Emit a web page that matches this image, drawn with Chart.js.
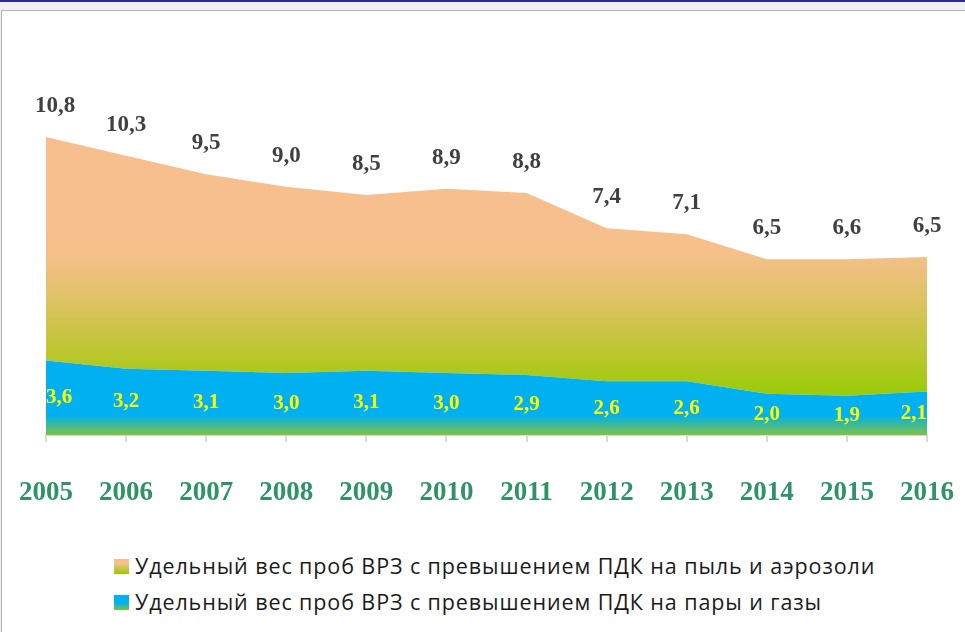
<!DOCTYPE html>
<html>
<head>
<meta charset="utf-8">
<script src="https://cdn.jsdelivr.net/npm/chart.js@4.4.1/dist/chart.umd.min.js"></script>
<style>
    html, body { margin: 0; padding: 0; }
    body { width: 965px; height: 632px; background: #f0f0f0; position: relative; overflow: hidden; }
    #topLine { position: absolute; left: 0; top: 0; width: 965px; height: 2px; background: #2e2e8f; }
    #frame { position: absolute; left: 1px; top: 10px; width: 980px; height: 640px; background: #fff; border: 1px solid #b4b4b4; }
    #chartBox { position: absolute; left: 0; top: 0; width: 965px; height: 530px; }
    .legend { position: absolute; left: 114px; font-family: "Open Sans", "Noto Sans", sans-serif; font-size: 21.5px; letter-spacing: 0.9px; color: #1a1a1a; white-space: nowrap; }
    .legend .box { position: absolute; left: 0; width: 15px; height: 15px; }
    .legend span.txt { position: absolute; left: 21px; }
    #leg1 { top: 551px; }
    #leg2 { top: 587px; }
    #leg1 .box { top: 8px; background: linear-gradient(#f8bf8f 0%, #f8bf8f 30%, #c8c448 65%, #96cc00 100%); }
    #leg2 .box { top: 8px; background: linear-gradient(#00b0f0 0%, #00b0f0 55%, #7ec33f 100%); }
</style>
</head>
<body>
<div id="topLine"></div>
<div id="frame"></div>
<div id="chartBox"><canvas id="myChart" width="965" height="530"></canvas></div>
<div class="legend" id="leg1"><div class="box"></div><span class="txt">Удельный вес проб ВРЗ с превышением ПДК на пыль и аэрозоли</span></div>
<div class="legend" id="leg2"><div class="box"></div><span class="txt">Удельный вес проб ВРЗ с превышением ПДК на пары и газы</span></div>
<script>
// years on the x axis
const years = ["2005", "2006", "2007", "2008", "2009", "2010", "2011", "2012", "2013", "2014", "2015", "2016"];
// dust and aerosols (upper area, stacked on top)
const dustValues = [10.8, 10.3, 9.5, 9.0, 8.5, 8.9, 8.8, 7.4, 7.1, 6.5, 6.6, 6.5];
// vapours and gases (lower area)
const gasValues = [3.6, 3.2, 3.1, 3.0, 3.1, 3.0, 2.9, 2.6, 2.6, 2.0, 1.9, 2.1];

const dustLabel = "Удельный вес проб ВРЗ с превышением ПДК на пыль и аэрозоли";
const gasLabel = "Удельный вес проб ВРЗ с превышением ПДК на пары и газы";

function fmt(v) {
    return v.toFixed(1).replace(".", ",");
}

function dustFill(ctx) {
    const area = ctx.chart.chartArea;
    if (!area) return "#f8bf8f";
    const g = ctx.chart.ctx.createLinearGradient(0, area.top, 0, area.bottom);
    g.addColorStop(0, "#f8bf8f");
    g.addColorStop(0.45, "#f6bf8c");
    g.addColorStop(0.6, "#dcc262");
    g.addColorStop(0.75, "#bcc62f");
    g.addColorStop(0.87, "#9ccb0a");
    g.addColorStop(1, "#92cc00");
    return g;
}

function gasFill(ctx) {
    const area = ctx.chart.chartArea;
    if (!area) return "#00b0f0";
    const g = ctx.chart.ctx.createLinearGradient(0, area.top, 0, area.bottom);
    g.addColorStop(0, "#00b0f0");
    g.addColorStop(0.94, "#00b0f0");
    g.addColorStop(1, "#7ec33f");
    return g;
}

// value labels drawn over the areas
const valueLabels = {
    id: "valueLabels",
    afterDatasetsDraw(chart) {
        const c = chart.ctx;
        const gasMeta = chart.getDatasetMeta(0);
        const dustMeta = chart.getDatasetMeta(1);
        const yScale = chart.scales.y;
        c.save();
        c.textBaseline = "middle";

        // dark labels above the top edge
        c.font = "bold 23px 'Liberation Serif', 'Times New Roman', serif";
        c.fillStyle = "#404040";
        c.textAlign = "center";
        dustMeta.data.forEach((pt, i) => {
            let x = pt.x;
            if (i === 0) x += 9;
            c.fillText(fmt(dustValues[i]), x, pt.y - 31);
        });

        // yellow labels in the middle of the blue band
        c.font = "bold 21px 'Liberation Serif', 'Times New Roman', serif";
        c.fillStyle = "#ffff00";
        gasMeta.data.forEach((pt, i) => {
            const y = yScale.getPixelForValue(gasValues[i] / 2);
            if (i === 0) c.textAlign = "left";
            else if (i === gasValues.length - 1) c.textAlign = "right";
            else c.textAlign = "center";
            c.fillText(fmt(gasValues[i]), pt.x, y);
        });
        c.restore();
    }
};

new Chart(document.getElementById("myChart"), {
    type: "line",
    data: {
        labels: years,
        datasets: [
            {
                label: gasLabel,
                data: gasValues,
                backgroundColor: gasFill,
                borderWidth: 0,
                pointRadius: 0,
                fill: "origin",
                tension: 0
            },
            {
                label: dustLabel,
                data: dustValues,
                backgroundColor: dustFill,
                borderWidth: 0,
                pointRadius: 0,
                fill: "-1",
                tension: 0
            }
        ]
    },
    options: {
        responsive: false,
        animation: false,
        layout: {
            padding: { left: 46, right: 38, top: 104, bottom: 0 }
        },
        plugins: {
            legend: { display: false },
            tooltip: { enabled: false }
        },
        scales: {
            x: {
                offset: false,
                border: { display: true, color: "#d9d9d9", width: 2 },
                grid: { display: true, drawOnChartArea: false, drawTicks: true, tickLength: 7, color: "#d9d9d9", lineWidth: 2 },
                ticks: {
                    padding: 35,
                    maxRotation: 0,
                    autoSkip: false,
                    color: "#2f9465",
                    font: { family: "'Liberation Serif', 'Times New Roman', serif", size: 27, weight: "bold" }
                },
                afterFit(scale) {
                    scale.height = 95;
                    scale.paddingLeft = 0;
                    scale.paddingRight = 0;
                }
            },
            y: {
                display: false,
                stacked: true,
                min: 0,
                max: 16
            }
        }
    },
    plugins: [valueLabels]
});
</script>
</body>
</html>
